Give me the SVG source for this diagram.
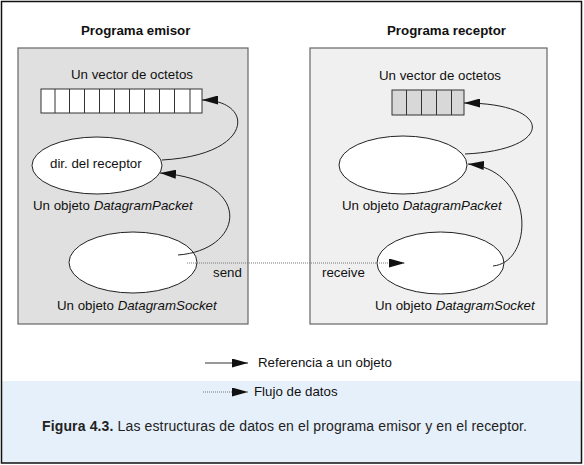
<svg xmlns="http://www.w3.org/2000/svg" width="584" height="465" viewBox="0 0 584 465">
<style>
text{font-family:"Liberation Sans",Arial,sans-serif;font-size:13.3px;fill:#111}
.b{font-weight:bold}
.i{font-style:italic}
.box{stroke:#666;stroke-width:1.2}
.cell{fill:#fff;stroke:#333;stroke-width:1}
.ell{fill:#fff;stroke:#222;stroke-width:1}
.ref{fill:none;stroke:#222;stroke-width:1;marker-end:url(#ah)}
.flow{fill:none;stroke:#777;stroke-width:1;stroke-dasharray:1 1;marker-end:url(#ah)}
</style>
<defs>
<marker id="ah" markerWidth="16" markerHeight="9" refX="16" refY="4.5" orient="auto" markerUnits="userSpaceOnUse">
<path d="M0,0 L16,4.5 L0,9 z" fill="#111"/>
</marker>
</defs>
<rect x="0" y="0" width="584" height="465" fill="#fff"/>
<rect x="1" y="381" width="580" height="82" fill="#e6f0fa"/>
<rect x="1.5" y="1.5" width="580" height="461.5" fill="none" stroke="#111" stroke-width="1.5"/>

<g id="emisor">
<rect class="box" x="18" y="48" width="230" height="276" fill="#e0e0e0"/>
<text class="b" x="81" y="35">Programa emisor</text>
</g>
<g id="receptor">
<rect class="box" x="310" y="48" width="237" height="276" fill="#f0f0f0"/>
<text class="b" x="387" y="35">Programa receptor</text>
</g>

<g id="vector-emisor">
<text x="71" y="79">Un vector de octetos</text>
<rect class="cell" x="41" y="89" width="161" height="24"/>
<path d="M55,89V113M69.5,89V113M84.5,89V113M99.5,89V113M114.5,89V113M129.5,89V113M144.5,89V113M159.5,89V113M174.5,89V113M190,89V113" stroke="#333" stroke-width="1" fill="none"/>
</g>
<g id="vector-receptor">
<text x="379" y="80">Un vector de octetos</text>
<rect class="cell" x="392" y="90" width="72" height="25" style="fill:#d8d8d8"/>
<path d="M406.5,90V115M421.5,90V115M436.5,90V115M451.5,90V115" stroke="#333" stroke-width="1" fill="none"/>
</g>

<g id="packet-emisor">
<ellipse class="ell" cx="97" cy="165.5" rx="65" ry="28.5"/>
<text x="50" y="168">dir. del receptor</text>
<text x="33" y="210">Un objeto <tspan class="i">DatagramPacket</tspan></text>
</g>
<g id="socket-emisor">
<ellipse class="ell" cx="133" cy="262.5" rx="64" ry="30.5"/>
<text x="57" y="310">Un objeto <tspan class="i">DatagramSocket</tspan></text>
<text x="213" y="277">send</text>
</g>
<g id="packet-receptor">
<ellipse class="ell" cx="403" cy="165" rx="64" ry="29"/>
<text x="342" y="210">Un objeto <tspan class="i">DatagramPacket</tspan></text>
</g>
<g id="socket-receptor">
<ellipse class="ell" cx="440.5" cy="263" rx="63.5" ry="31"/>
<text x="375" y="310">Un objeto <tspan class="i">DatagramSocket</tspan></text>
<text x="322" y="277">receive</text>
</g>

<g id="connectors">
<path class="ref" d="M162,160 C255,155 255,100 202,100"/>
<path class="ref" d="M178,255 C245,250 255,180 160,173"/>
<path class="ref" d="M465,154 C555,150 555,103 464,103"/>
<path class="ref" d="M493,266 C535,262 535,170 468,164"/>
<path class="flow" d="M187,263 L405,263"/>
</g>

<g id="legend">
<path d="M205,363 L248,363" fill="none" stroke="#333" stroke-width="1" marker-end="url(#ah)"/>
<text x="258" y="367">Referencia a un objeto</text>
<path d="M203,392 L248,392" fill="none" stroke="#777" stroke-width="1" stroke-dasharray="1 1" marker-end="url(#ah)"/>
<text x="254" y="396">Flujo de datos</text>
</g>

<g id="caption">
<text x="42" y="431" style="fill:#222;font-size:14px" textLength="485" lengthAdjust="spacing"><tspan class="b">Figura 4.3.</tspan> Las estructuras de datos en el programa emisor y en el receptor.</text>
</g>
</svg>
